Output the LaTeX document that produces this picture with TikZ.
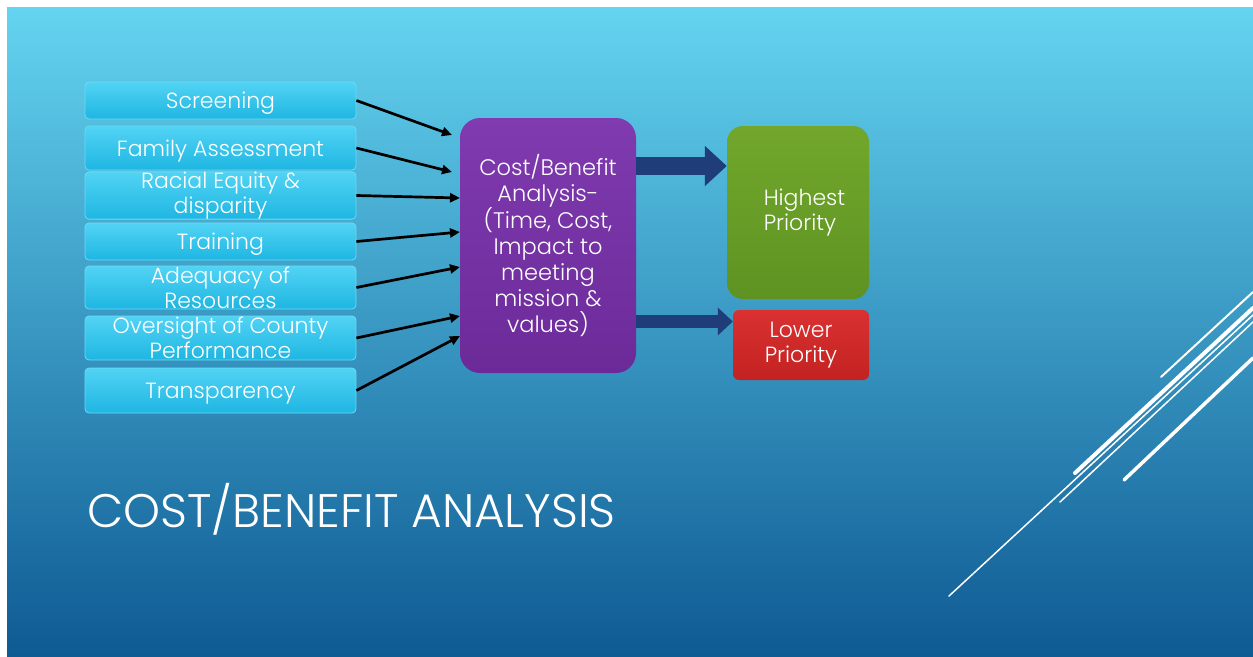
\documentclass[tikz,border=0pt]{standalone}
\usepackage{fontspec}
\setmainfont{Poppins}[UprightFont=* Light]
\usetikzlibrary{arrows.meta,calc}
\definecolor{bgtop}{HTML}{64D4F0}
\definecolor{bgmid}{HTML}{3EA3CF}
\definecolor{bgbot}{HTML}{0E5A93}
\definecolor{itemtop}{HTML}{52D3F4}
\definecolor{itembot}{HTML}{1EB6E2}
\definecolor{itemedge}{HTML}{6ADAF6}
\definecolor{purtop}{HTML}{7F3BAF}
\definecolor{purbot}{HTML}{6C2A99}
\definecolor{grntop}{HTML}{72A72C}
\definecolor{grnbot}{HTML}{5E9322}
\definecolor{redtop}{HTML}{DA3131}
\definecolor{redbot}{HTML}{C32222}
\definecolor{navy}{HTML}{1F3D78}
\tikzset{
  item/.style={rectangle, rounded corners=4pt, minimum width=271pt, inner sep=0pt,
    top color=itemtop, bottom color=itembot, draw=itemedge, line width=0.8pt,
    text=white, font=\fontsize{22}{25}\selectfont, align=center},
  oneline/.style={text height=16pt, text depth=0pt},
  conn/.style={draw=black, line width=2.7pt, -{Triangle[length=10pt,width=9pt]}},
  bigarrow/.style={draw=navy, line width=#1},
  hub/.style={rectangle, rounded corners=20pt, minimum width=176pt, minimum height=255pt,
    top color=purtop, bottom color=purbot, text=white, align=center,
    font=\fontsize{22.5}{26}\selectfont},
  outbox/.style={rectangle, text=white, font=\fontsize{22}{25}\selectfont},
  deco/.style={draw=white, line cap=round}
}
\begin{document}
\begin{tikzpicture}[x=1pt,y=-1pt]
\useasboundingbox (0,0) rectangle (1253,656);
\fill[white] (0,0) rectangle (1253,656);
\shade[top color=bgtop, middle color=bgmid, bottom color=bgbot] (7,7) rectangle (1253,656);

% decorative lines
\draw[deco, line width=2pt] (1161,377) -- (1253,292);
\draw[deco, line width=4pt] (1075,473) -- (1253,308);
\draw[deco, line width=1.5pt] (949,596) -- (1253,315);
\draw[deco, line width=1.5pt] (1060,502) -- (1253,322);
\draw[deco, line width=3.5pt] (1124,480) -- (1253,358);

% left items
\node[item, oneline, minimum height=37pt] (b1) at (220.5,100.5) {Screening};
\node[item, oneline, minimum height=44pt] (b2) at (220.5,148) {Family Assessment};
\node[item, minimum height=45pt] (b3) at (220.5,195.5) {Racial Equity \&\\disparity};
\node[item, oneline, minimum height=37pt] (b4) at (220.5,241.5) {Training};
\node[item, minimum height=43pt] (b5) at (220.5,287.5) {Adequacy of\\Resources};
\node[item, minimum height=44pt] (b6) at (220.5,338) {Oversight of County\\Performance};
\node[item, oneline, minimum height=45pt] (b7) at (220.5,390.5) {Transparency};

% hub
\node[hub] (cba) at (548,245.5) {Cost/Benefit\\Analysis-\\(Time, Cost,\\Impact to\\meeting\\mission \&\\values)};

% outcome boxes
\node[outbox, rounded corners=16pt, minimum width=142pt, minimum height=173pt,
  top color=grntop, bottom color=grnbot, align=left] (high) at (798,212.5) {\hspace*{13pt}Highest\\\hspace*{13pt}Priority};
\node[outbox, rounded corners=6pt, minimum width=136pt, minimum height=70pt,
  top color=redtop, bottom color=redbot, align=center] (low) at (801,345) {Lower\\Priority};

% connector end points
\coordinate (t1) at (452,135);
\coordinate (t2) at (452,172);
\coordinate (t3) at (460,198);
\coordinate (t4) at (460,232);
\coordinate (t5) at (460,267);
\coordinate (t6) at (460,316);
\coordinate (t7) at (460,336);
\draw[conn] (b1.east) -- (t1);
\draw[conn] (b2.east) -- (t2);
\draw[conn] (b3.east) -- (t3);
\draw[conn] (b4.east) -- (t4);
\draw[conn] (b5.east) -- (t5);
\draw[conn] (b6.east) -- (t6);
\draw[conn] (b7.east) -- (t7);

% block arrows
\coordinate (ha) at (0,166);
\coordinate (la) at (0,321.5);
\draw[bigarrow=18pt, -{Triangle[width=39pt,length=22pt]}] (cba.east |- ha) -- (high.west |- ha);
\draw[bigarrow=13pt, -{Triangle[width=27pt,length=15pt]}] (cba.east |- la) -- (low.west |- la);

% title
\node[anchor=base west, inner sep=0pt, text=white, font=\fontsize{47}{50}\selectfont] (title) at (87,527) {COST/BENEFIT ANALYSIS};
\end{tikzpicture}
\end{document}
